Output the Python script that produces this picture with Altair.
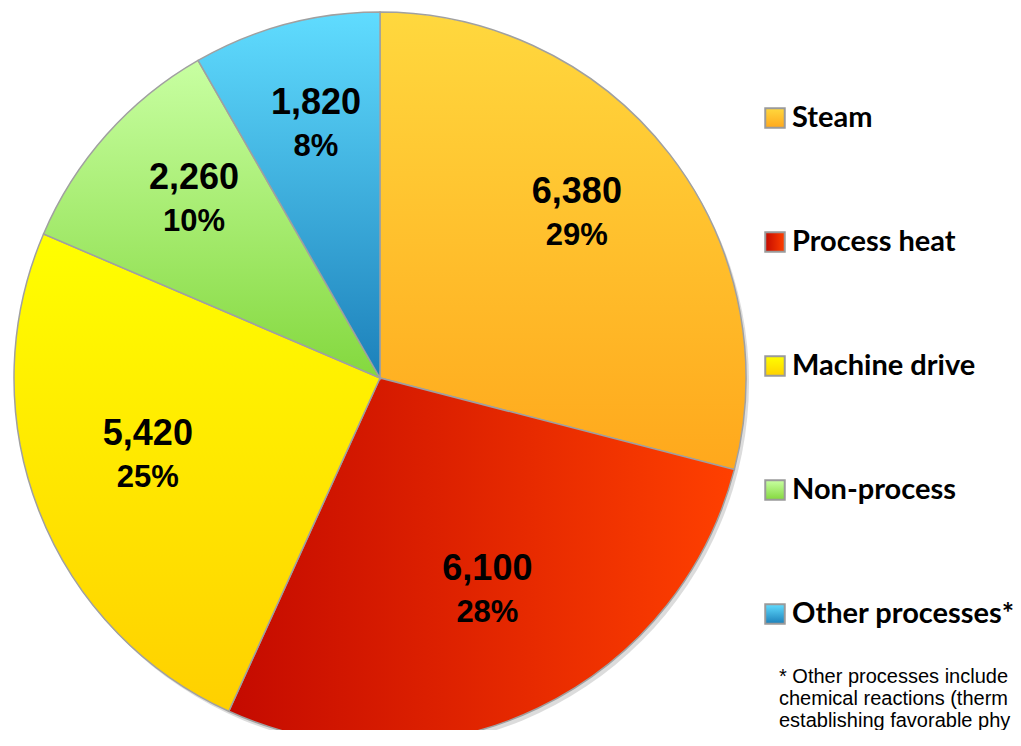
import altair as alt
import pandas as pd

categories = ["Steam", "Process heat", "Machine drive", "Non-process", "Other processes*"]
values = [6380, 6100, 5420, 2260, 1820]
order = [1, 2, 3, 4, 5]

grad_colors = {
    "Steam": ("#FFD83E", "#FFA81C", "v"),
    "Process heat": ("#C40A00", "#FF4000", "h"),
    "Machine drive": ("#FFFF00", "#FFD000", "v"),
    "Non-process": ("#C8FFA2", "#84D83E", "v"),
    "Other processes*": ("#60DCFF", "#1C80BA", "v"),
}

footnote_lines = [
    "* Other processes include",
    "chemical reactions (therm",
    "establishing favorable phy",
]

df = pd.DataFrame({"category": categories, "value": values, "order": order})

CX, CY, R = 372, 370, 366


def gradient(cat):
    c0, c1, d = grad_colors[cat]
    return {"gradient": "linear", "x1": 0, "y1": 0,
            "x2": 1 if d == "h" else 0, "y2": 0 if d == "h" else 1,
            "stops": [{"offset": 0, "color": c0}, {"offset": 1, "color": c1}]}


theta_scale = alt.Scale(domain=[0, 1])

base = (
    alt.Chart(df)
    .transform_joinaggregate(total="sum(value)")
    .transform_window(cum="sum(value)", sort=[alt.SortField("order")], frame=[None, 0])
    .transform_calculate(
        start="(datum.cum - datum.value) / datum.total",
        end="datum.cum / datum.total",
        mid="(datum.cum - datum.value / 2) / datum.total",
        pct="format(datum.value / datum.total, '.0%')",
    )
)

layers = []

shadow = alt.Chart(pd.DataFrame({"k": [0]})).mark_arc(
    outerRadius=R, theta=0, theta2=6.2832, fill="#8a8a8a", opacity=0.3
).encode(x=alt.value(CX + 3), y=alt.value(CY + 4))
layers.append(shadow)

for cat in categories:
    layers.append(
        base.transform_filter(alt.datum.category == cat)
        .mark_arc(outerRadius=R, fill=gradient(cat), stroke="#A0A0A0", strokeWidth=1.5)
        .encode(theta=alt.Theta("start:Q", scale=theta_scale), theta2="end:Q",
                x=alt.value(CX), y=alt.value(CY))
    )

num_labels = base.mark_text(
    radius=249, font="Liberation Sans", fontWeight="bold", fontSize=36,
    color="black", baseline="middle", align="center", dy=-34
).encode(theta=alt.Theta("mid:Q", scale=theta_scale), text=alt.Text("value:Q", format=","),
         x=alt.value(CX), y=alt.value(CY))

pct_labels = base.mark_text(
    radius=249, font="Liberation Sans", fontWeight="bold", fontSize=31,
    color="black", baseline="middle", align="center", dy=10
).encode(theta=alt.Theta("mid:Q", scale=theta_scale), text="pct:N",
         x=alt.value(CX), y=alt.value(CY))

layers += [num_labels, pct_labels]

leg_y = alt.Y("category:N", scale=alt.Scale(domain=categories, range=[110, 606], padding=0),
              axis=None)

for cat in categories:
    layers.append(
        alt.Chart(df).transform_filter(alt.datum.category == cat)
        .mark_point(shape="square", size=380, filled=True, fill=gradient(cat),
                    stroke="#9A9A9A", strokeWidth=2, opacity=1)
        .encode(x=alt.value(767), y=leg_y)
    )

leg_text = alt.Chart(df).mark_text(
    align="left", baseline="middle", font="Lato", fontWeight="bold", fontSize=29, color="black"
).encode(x=alt.value(784), y=leg_y, text="category:N")
layers.append(leg_text)

foot = alt.Chart(pd.DataFrame({"k": [0]})).mark_text(
    text=footnote_lines, align="left", baseline="alphabetic", font="Liberation Sans",
    fontSize=20, lineHeight=22, color="black"
).encode(x=alt.value(771), y=alt.value(675))
layers.append(foot)

chart = (
    alt.layer(*layers)
    .properties(
        width=1005, height=722,
        autosize=alt.AutoSizeParams(type="none"),
        padding=0,
    )
    .configure_view(stroke=None)
)

chart.save("out.html", embed_options={"renderer": "svg", "actions": False})
